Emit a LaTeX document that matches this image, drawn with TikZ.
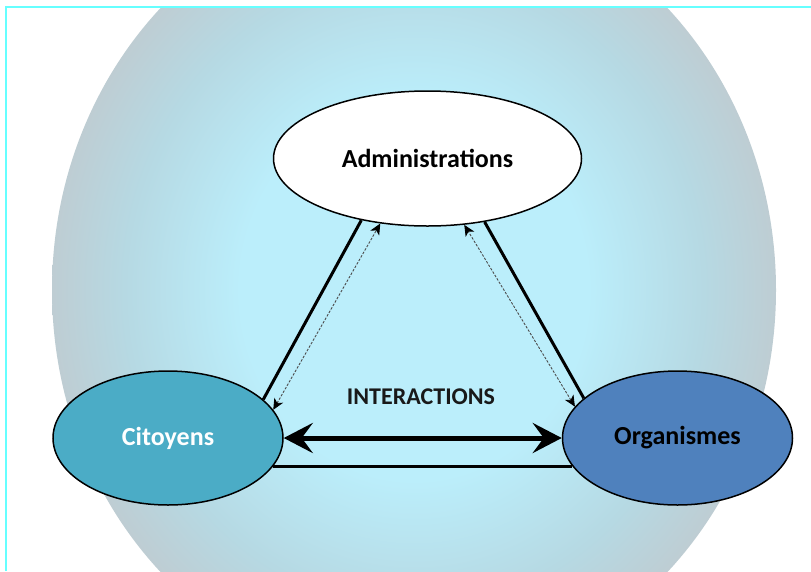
\documentclass[tikz,border=0pt]{standalone}
\usepackage{fontspec}
\setmainfont{Carlito}
\usepackage{xcolor}
\usetikzlibrary{arrows.meta, shapes, positioning}

\definecolor{glowin}{RGB}{187,238,251}
\definecolor{glowmid}{RGB}{182,217,227}
\definecolor{glowout}{RGB}{190,205,211}
\definecolor{aqua}{RGB}{75,172,198}
\definecolor{steel}{RGB}{79,129,189}
\definecolor{frameline}{RGB}{102,255,255}
\pgfdeclareradialshading{glow}{\pgfpoint{0bp}{0bp}}{color(0bp)=(glowin); color(12bp)=(glowin); color(20bp)=(glowmid); color(25bp)=(glowout); color(50bp)=(glowout)}

\tikzset{
  party/.style={ellipse, draw=black, line width=1.5pt, inner sep=0pt,
    minimum width=230pt, minimum height=134pt,
    font=\fontsize{26}{30}\selectfont\bfseries},
  bar/.style={line width=3pt},
  msg/.style={{Stealth[length=11pt,width=10pt,inset=3pt,black]}-{Stealth[length=11pt,width=10pt,inset=3pt,black]},
    draw=black!70, line width=0.9pt, dash pattern=on 2.5pt off 1.5pt},
  big/.style={{Stealth[length=29pt,width=30pt,inset=11pt]}-{Stealth[length=29pt,width=30pt,inset=11pt]},
    line width=5pt}
}

\begin{document}
\begin{tikzpicture}[x=1pt, y=-1pt]
\useasboundingbox (0,0) rectangle (811,571);
\begin{scope}
\clip (0,8) rectangle (811,571);
\shade[shading=glow] (414,290) ellipse [x radius=362, y radius=395];
\end{scope}
\draw[frameline, line width=2pt] (6,571) -- (6,6.5) -- (811,6.5);

\node[party, fill=white, minimum width=308pt, minimum height=135pt] (adm) at (427.5,158.5) {Administrations};
\node[party, fill=aqua, text=white] (cit) at (168,438) {Citoyens};
\node[party, fill=steel, right=278pt of cit] (org) {Organismes};
\node[font=\fontsize{24}{28}\selectfont\bfseries, text=black!90] (inter) at (421,397) {INTERACTIONS};

\draw[bar] (cit.22) -- (adm.223);
\draw[msg] (cit.15) -- (adm.234);
\draw[bar] (org.157) -- (adm.312);
\draw[msg] (org.163) -- (adm.299);
\draw[bar] (cit.-15) -- (org.195);
\draw[big] (cit.0) -- (org.180);
\end{tikzpicture}
\end{document}
